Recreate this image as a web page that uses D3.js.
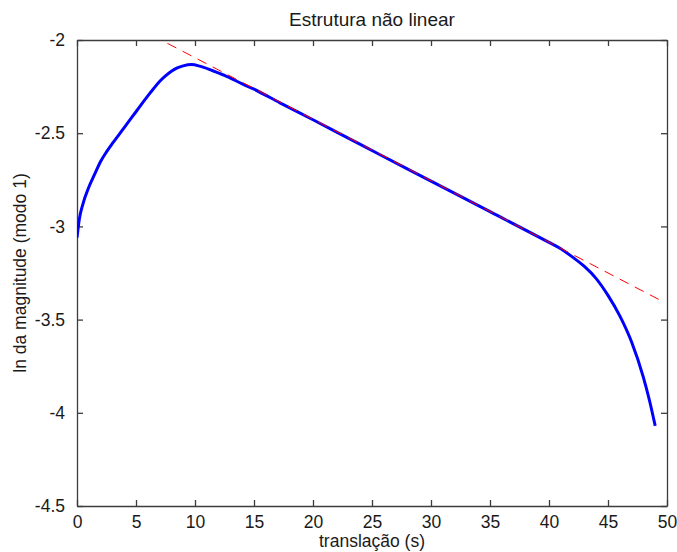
<!DOCTYPE html>
<html>
<head>
<meta charset="utf-8">
<script src="https://cdn.jsdelivr.net/npm/d3@7"></script>
<style>
  body { margin: 0; background: #fff; }
  text { font-family: "Liberation Sans", Arial, sans-serif; fill: #1a1a1a; }
</style>
</head>
<body>
<div id="chart"></div>
<script>
// Estrutura não linear - ln da magnitude vs translação

// blue curve
const curveX = [0, 0.2, 0.5, 1, 1.5, 2, 2.5, 3, 3.5, 4, 5, 6, 6.5, 7, 7.5, 8, 8.5, 9, 9.7, 10.4, 11.5,
                12.5, 14, 15, 17.2, 20, 22.9, 25.4, 30, 35, 40, 41, 42, 43, 44, 45, 46, 47, 48, 48.5, 49];
const curveY = [-3.06, -2.96, -2.88, -2.79, -2.72, -2.652, -2.60, -2.555, -2.513, -2.47, -2.385,
                -2.30, -2.26, -2.223, -2.193, -2.168, -2.15, -2.139, -2.132, -2.14, -2.165,
                -2.19, -2.235, -2.264, -2.337, -2.428, -2.524, -2.606, -2.757, -2.921, -3.086,
                -3.12, -3.165, -3.215, -3.28, -3.37, -3.48, -3.62, -3.81, -3.93, -4.07];

// red dashed fit line
const fitX = [0, 49.4];
const fitY = [-1.765, -3.395];

const xTicks = [0, 5, 10, 15, 20, 25, 30, 35, 40, 45, 50];
const yTicks = [-2, -2.5, -3, -3.5, -4, -4.5];

const W = 677, H = 552;
const margin = { top: 40, right: 10, bottom: 46, left: 77 };
const width = W - margin.left - margin.right;
const height = H - margin.top - margin.bottom;

const svg = d3.select('#chart').append('svg')
    .attr('width', W)
    .attr('height', H);

const g = svg.append('g')
    .attr('transform', `translate(${margin.left},${margin.top})`);

const x = d3.scaleLinear().domain([0, 50]).range([0, width]);
const y = d3.scaleLinear().domain([-4.5, -2]).range([height, 0]);

g.append('clipPath').attr('id', 'clip')
    .append('rect').attr('width', width).attr('height', height);

// axes, ticks pointing inward on all four sides
const axisColor = '#3c3c3c';
const fmtY = d => String(d); // plain hyphen minus like the original

g.append('g')
    .attr('transform', `translate(0,${height})`)
    .call(d3.axisBottom(x).tickValues(xTicks).tickSizeInner(-6).tickSizeOuter(0).tickPadding(10))
    .call(a => a.selectAll('text').style('font-size', '17.5px'));

g.append('g')
    .call(d3.axisTop(x).tickValues(xTicks).tickSizeInner(-6).tickSizeOuter(0).tickFormat(''));

g.append('g')
    .call(d3.axisLeft(y).tickValues(yTicks).tickSizeInner(-6).tickSizeOuter(0).tickPadding(12).tickFormat(fmtY))
    .call(a => a.selectAll('text').style('font-size', '17.5px'));

g.append('g')
    .attr('transform', `translate(${width},0)`)
    .call(d3.axisRight(y).tickValues(yTicks).tickSizeInner(-6).tickSizeOuter(0).tickFormat(''));

g.selectAll('.domain, .tick line').attr('stroke', axisColor).attr('stroke-width', 1.3);
g.selectAll('.tick text').attr('fill', '#1a1a1a');

// data lines
const line = d3.line()
    .x(d => x(d[0]))
    .y(d => y(d[1]))
    .curve(d3.curveMonotoneX);

g.append('path')
    .datum(curveX.map((v, i) => [v, curveY[i]]))
    .attr('clip-path', 'url(#clip)')
    .attr('fill', 'none')
    .attr('stroke', '#0000ff')
    .attr('stroke-width', 3)
    .attr('d', line);

g.append('path')
    .datum(fitX.map((v, i) => [v, fitY[i]]))
    .attr('clip-path', 'url(#clip)')
    .attr('fill', 'none')
    .attr('stroke', '#ff0000')
    .attr('stroke-width', 1)
    .attr('stroke-dasharray', '10,7')
    .attr('d', d3.line().x(d => x(d[0])).y(d => y(d[1])));

// title and labels
svg.append('text')
    .attr('x', margin.left + width / 2)
    .attr('y', 26)
    .attr('text-anchor', 'middle')
    .style('font-size', '19px')
    .text('Estrutura não linear');

svg.append('text')
    .attr('x', margin.left + width / 2)
    .attr('y', 547)
    .attr('text-anchor', 'middle')
    .style('font-size', '17.5px')
    .text('translação (s)');

svg.append('text')
    .attr('transform', `translate(26,${margin.top + height / 2}) rotate(-90)`)
    .attr('text-anchor', 'middle')
    .style('font-size', '17.5px')
    .text('ln da magnitude (modo 1)');
</script>
</body>
</html>
